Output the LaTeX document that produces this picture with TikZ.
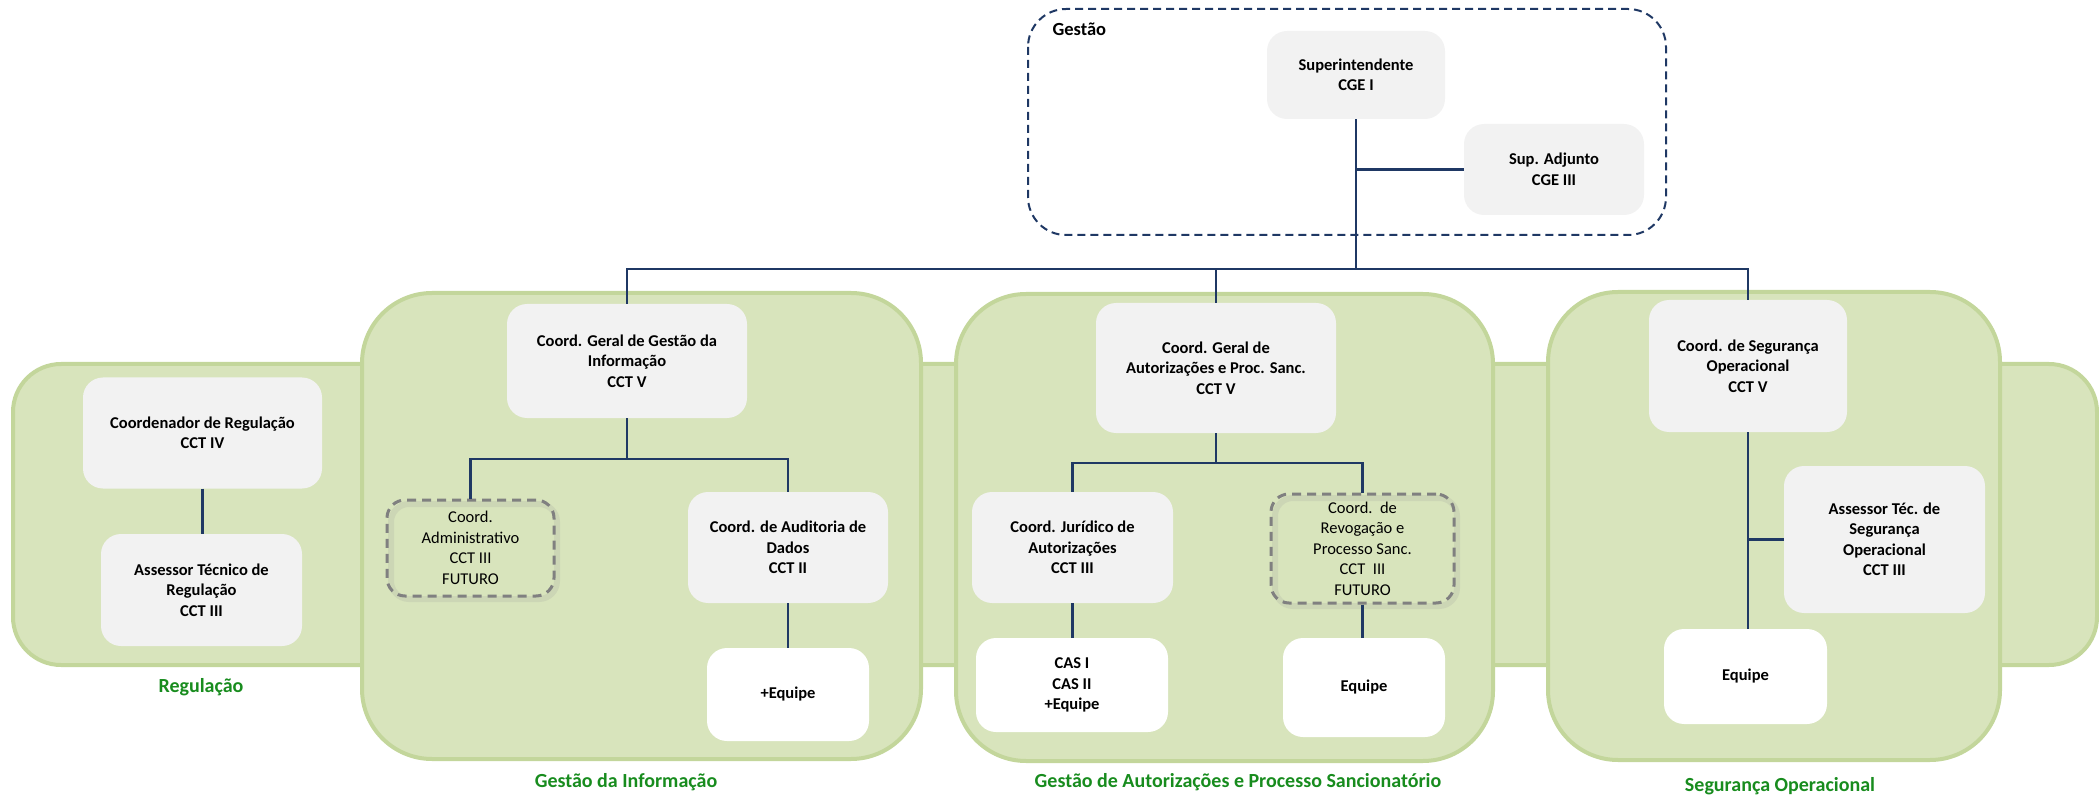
\documentclass[tikz,border=0pt]{standalone}
\usepackage{fontspec}
\setmainfont{Carlito}
\usetikzlibrary{positioning}
\definecolor{panelfill}{RGB}{216,228,188}
\definecolor{panelline}{RGB}{195,214,155}
\definecolor{boxfill}{RGB}{242,242,242}
\definecolor{navy}{RGB}{31,56,100}
\definecolor{labgreen}{RGB}{24,140,30}
\definecolor{dashgray}{RGB}{128,128,128}
\tikzset{
  panel/.style={draw=panelline, fill=panelfill, line width=4pt, rounded corners=70pt},
  band/.style={draw=panelline, fill=panelfill, line width=4pt, rounded corners=48pt},
  gbox/.style={fill=boxfill, rounded corners=20pt, align=center, inner sep=2pt,
    font=\fontsize{16.5}{20.5}\selectfont\bfseries},
  wbox/.style={gbox, fill=white},
  futbox/.style={draw=dashgray, line width=3pt, dash pattern=on 9pt off 6pt, rounded corners=18pt,
    align=center, inner sep=2pt, font=\fontsize{16.5}{20.5}\selectfont},
  shadowbox/.style={draw=black!40, opacity=0.18, line width=6pt, rounded corners=18pt},
  conn/.style={draw=navy, line width=2.2pt},
  grouplabel/.style={text=labgreen, font=\fontsize{20}{22}\selectfont\bfseries},
}
\begin{document}
\begin{tikzpicture}[x=1pt,y=-1pt]
\useasboundingbox (0,0) rectangle (2099,799);
% background band and panels
\draw[band] (13,364) rectangle (2097,665);
\draw[panel] (362,293) rectangle (921,759);
\draw[panel] (956,294) rectangle (1493,761);
\draw[panel] (1548,292) rectangle (2000,760);
% gestao dashed region
\draw[navy, line width=2pt, dash pattern=on 8pt off 5pt, rounded corners=38pt] (1028,9) rectangle (1666,235);
\node[anchor=west, font=\fontsize{18.5}{20}\selectfont\bfseries] (gestao) at (1049,29) {Gestão};
% Gestao nodes
\node[gbox, minimum width=178, minimum height=88] (sup) at (1356,75) {Superintendente\\CGE I};
\node[gbox, minimum width=180, minimum height=91] (adj) at (1554,169.5) {Sup. Adjunto\\CGE III};
% Regulacao
\node[gbox, minimum width=239, minimum height=111] (creg) at (202.5,433) {Coordenador de Regulação\\CCT IV};
\node[gbox, minimum width=201, minimum height=112] (areg) at (201.5,590) {Assessor Técnico de\\Regulação\\CCT III};
% Gestao da Informacao
\node[gbox, minimum width=240, minimum height=114] (gi) at (627,361) {Coord. Geral de Gestão da\\Informação\\CCT V};
\draw[shadowbox] (391,504) rectangle (557,599);
\node[futbox, minimum width=167, minimum height=96] (adm) at (470.5,548) {Coord.\\Administrativo\\CCT III\\FUTURO};
\node[gbox, minimum width=200, minimum height=111] (aud) at (788,547.5) {Coord. de Auditoria de\\Dados\\CCT II};
\node[wbox, minimum width=162, minimum height=93] (eq1) at (788,694.5) {+Equipe};
% Gestao de Autorizacoes
\node[gbox, minimum width=240, minimum height=130] (gaps) at (1216,368) {Coord. Geral de\\Autorizações e Proc. Sanc.\\CCT V};
\node[gbox, minimum width=201, minimum height=111] (jur) at (1072.5,547.5) {Coord. Jurídico de\\Autorizações\\CCT III};
\node[wbox, minimum width=192, minimum height=94] (cas) at (1072,685) {CAS I\\CAS II\\+Equipe};
\draw[shadowbox] (1275,498) rectangle (1457,606);
\node[futbox, minimum width=183, minimum height=109] (rev) at (1362.5,548.5) {Coord.\ \ de\\Revogação e\\Processo Sanc.\\CCT\ \ III\\FUTURO};
\node[wbox, minimum width=162, minimum height=99] (eq2) at (1364,687.5) {Equipe};
% Seguranca Operacional
\node[gbox, minimum width=198, minimum height=132] (so) at (1748,366) {Coord. de Segurança\\Operacional\\CCT V};
\node[gbox, minimum width=201, minimum height=147] (ast) at (1884.5,539.5) {Assessor Téc. de\\Segurança\\Operacional\\CCT III};
\node[wbox, minimum width=163, minimum height=95] (eq3) at (1745.5,676.5) {Equipe};
% group labels
\node[grouplabel] (lreg) at (201,687) {Regulação};
\node[grouplabel] (lgi) at (626,782) {Gestão da Informação};
\node[grouplabel] (lgaps) at (1238,782) {Gestão de Autorizações e Processo Sancionatório};
\node[grouplabel] (lso) at (1780,786) {Segurança Operacional};
% connectors
\coordinate (bus) at (0,269);
\coordinate (giBr) at (0,459);
\coordinate (gaBr) at (0,463);
\draw[conn] (sup.south) -- (sup.south |- bus);
\draw[conn] (sup.south |- adj.west) -- (adj.west);
\draw[conn] (gi.north) -- (gi.north |- bus) -- (so.north |- bus) -- (so.north);
\draw[conn] (gaps.north) -- (gaps.north |- bus);
\draw[conn] (creg.south) -- (creg.south |- areg.north);
\draw[conn] (gi.south) -- (gi.south |- giBr);
\draw[conn] (adm.north) -- (adm.north |- giBr) -- (aud.north |- giBr) -- (aud.north);
\draw[conn] (aud.south) -- (eq1.north);
\draw[conn] (gaps.south) -- (gaps.south |- gaBr);
\draw[conn] (jur.north) -- (jur.north |- gaBr) -- (rev.north |- gaBr) -- (rev.north);
\draw[conn] (jur.south) -- (jur.south |- cas.north);
\draw[conn] (rev.south) -- (rev.south |- eq2.north);
\draw[conn] (so.south) -- (so.south |- eq3.north);
\draw[conn] (so.south |- ast.west) -- (ast.west);
\end{tikzpicture}
\end{document}
